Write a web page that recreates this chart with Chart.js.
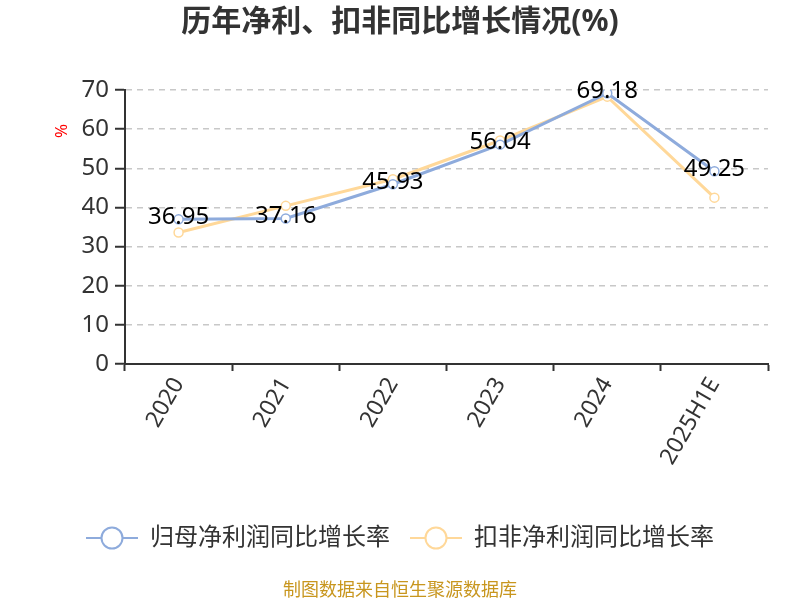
<!DOCTYPE html>
<html>
<head>
<meta charset="utf-8">
<script src="https://cdn.jsdelivr.net/npm/chart.js@4"></script>
<style>
    html, body { margin: 0; padding: 0; background: #fff; }
    #wrap { width: 800px; height: 600px; }
</style>
</head>
<body>
<div id="wrap"><canvas id="growthChart" width="800" height="600"></canvas></div>
<script>
// Chart data
const categories = ['2020', '2021', '2022', '2023', '2024', '2025H1E'];
const netProfitGrowth = [36.95, 37.16, 45.93, 56.04, 69.18, 49.25];
const deductedGrowth = [33.6, 40.4, 47.2, 57.1, 68.3, 42.5];
const yTicks = [0, 10, 20, 30, 40, 50, 60, 70];
const seriesNames = ['归母净利润同比增长率', '扣非净利润同比增长率'];

const FONT = '"Noto Sans", "Noto Sans CJK SC", sans-serif';
const BLUE = '#8eabdc';
const ORANGE = '#ffd899';

// legend icon: short line with a hollow circle
function legendIcon(color) {
    const c = document.createElement('canvas');
    c.width = 52;
    c.height = 26;
    const ctx = c.getContext('2d');
    ctx.strokeStyle = color;
    ctx.lineWidth = 2;
    ctx.beginPath();
    ctx.moveTo(0, 13);
    ctx.lineTo(52, 13);
    ctx.stroke();
    ctx.fillStyle = '#fff';
    ctx.beginPath();
    ctx.arc(26, 13, 10.5, 0, Math.PI * 2);
    ctx.fill();
    ctx.stroke();
    return c;
}

// Value labels above the first series, and the red unit mark
const extrasPlugin = {
    id: 'extras',
    afterDatasetsDraw(chart) {
        const ctx = chart.ctx;
        const meta = chart.getDatasetMeta(0);
        ctx.save();
        ctx.font = '24px ' + FONT;
        ctx.fillStyle = '#000';
        ctx.textAlign = 'center';
        ctx.textBaseline = 'middle';
        meta.data.forEach((pt, i) => {
            ctx.fillText(netProfitGrowth[i].toFixed(2), pt.x, pt.y - 2);
        });
        ctx.restore();

        ctx.save();
        ctx.translate(62, 131);
        ctx.rotate(-Math.PI / 2);
        ctx.font = '17px ' + FONT;
        ctx.fillStyle = '#ff0000';
        ctx.textAlign = 'center';
        ctx.textBaseline = 'middle';
        ctx.fillText('%', 0, 0);
        ctx.restore();
    }
};

document.addEventListener('DOMContentLoaded', () => {
    const canvas = document.getElementById('growthChart');
    const colors = [BLUE, ORANGE];

    new Chart(canvas.getContext('2d'), {
        type: 'line',
        data: {
            labels: categories,
            datasets: [{
                label: seriesNames[0],
                data: netProfitGrowth,
                borderColor: BLUE,
                backgroundColor: '#fff',
                borderWidth: 3,
                pointRadius: 4.5,
                pointBorderWidth: 1.5,
                pointBackgroundColor: '#fff',
                pointBorderColor: BLUE,
                tension: 0
            }, {
                label: seriesNames[1],
                data: deductedGrowth,
                borderColor: ORANGE,
                backgroundColor: '#fff',
                borderWidth: 3,
                pointRadius: 4.5,
                pointBorderWidth: 1.5,
                pointBackgroundColor: '#fff',
                pointBorderColor: ORANGE,
                tension: 0
            }]
        },
        options: {
            responsive: false,
            animation: false,
            layout: {
                padding: 0
            },
            plugins: {
                title: {
                    display: true,
                    text: '历年净利、扣非同比增长情况(%)',
                    color: '#333',
                    font: { family: FONT, size: 30, weight: 'bold' },
                    padding: { top: 4, bottom: 50 }
                },
                subtitle: {
                    display: true,
                    position: 'bottom',
                    text: '制图数据来自恒生聚源数据库',
                    color: '#c8961e',
                    font: { family: FONT, size: 18, lineHeight: 1 },
                    padding: { top: 22, bottom: 0 }
                },
                legend: {
                    position: 'bottom',
                    labels: {
                        usePointStyle: true,
                        pointStyleWidth: 52,
                        color: '#333',
                        font: { family: FONT, size: 24 },
                        padding: 20,
                        generateLabels(chart) {
                            return chart.data.datasets.map((ds, i) => ({
                                text: ds.label,
                                pointStyle: legendIcon(colors[i]),
                                fontColor: '#333',
                                datasetIndex: i,
                                hidden: false,
                                lineWidth: 0
                            }));
                        }
                    }
                },
                tooltip: { enabled: false }
            },
            scales: {
                x: {
                    offset: true,
                    grid: {
                        display: true,
                        drawOnChartArea: false,
                        offset: true,
                        tickLength: 7,
                        tickWidth: 2,
                        color: '#333'
                    },
                    border: { color: '#333', width: 2 },
                    ticks: {
                        color: '#333',
                        font: { family: FONT, size: 23 },
                        minRotation: 60,
                        maxRotation: 60,
                        padding: 2
                    },
                    afterFit(axis) { axis.height = 142; }
                },
                y: {
                    min: 0,
                    max: 70,
                    afterBuildTicks(axis) {
                        axis.ticks = yTicks.map(v => ({ value: v }));
                    },
                    grid: {
                        color: '#c8c8c8',
                        lineWidth: 1.5,
                        tickLength: 10,
                        tickColor: '#333',
                        tickWidth: 2,
                        drawTicks: true
                    },
                    border: { color: '#333', width: 2, dash: [6, 5], dashOffset: 0 },
                    ticks: {
                        color: '#333',
                        font: { family: FONT, size: 24 },
                        padding: 6
                    },
                    afterFit(axis) { axis.width = 125; }
                },
                // empty right-side spacer keeping the plot off the right edge
                spacer: {
                    type: 'linear',
                    position: 'right',
                    display: true,
                    grid: { display: false },
                    border: { display: false },
                    ticks: { display: false },
                    afterFit(axis) { axis.width = 32; }
                }
            }
        },
        plugins: [extrasPlugin]
    });
});
</script>
</body>
</html>
